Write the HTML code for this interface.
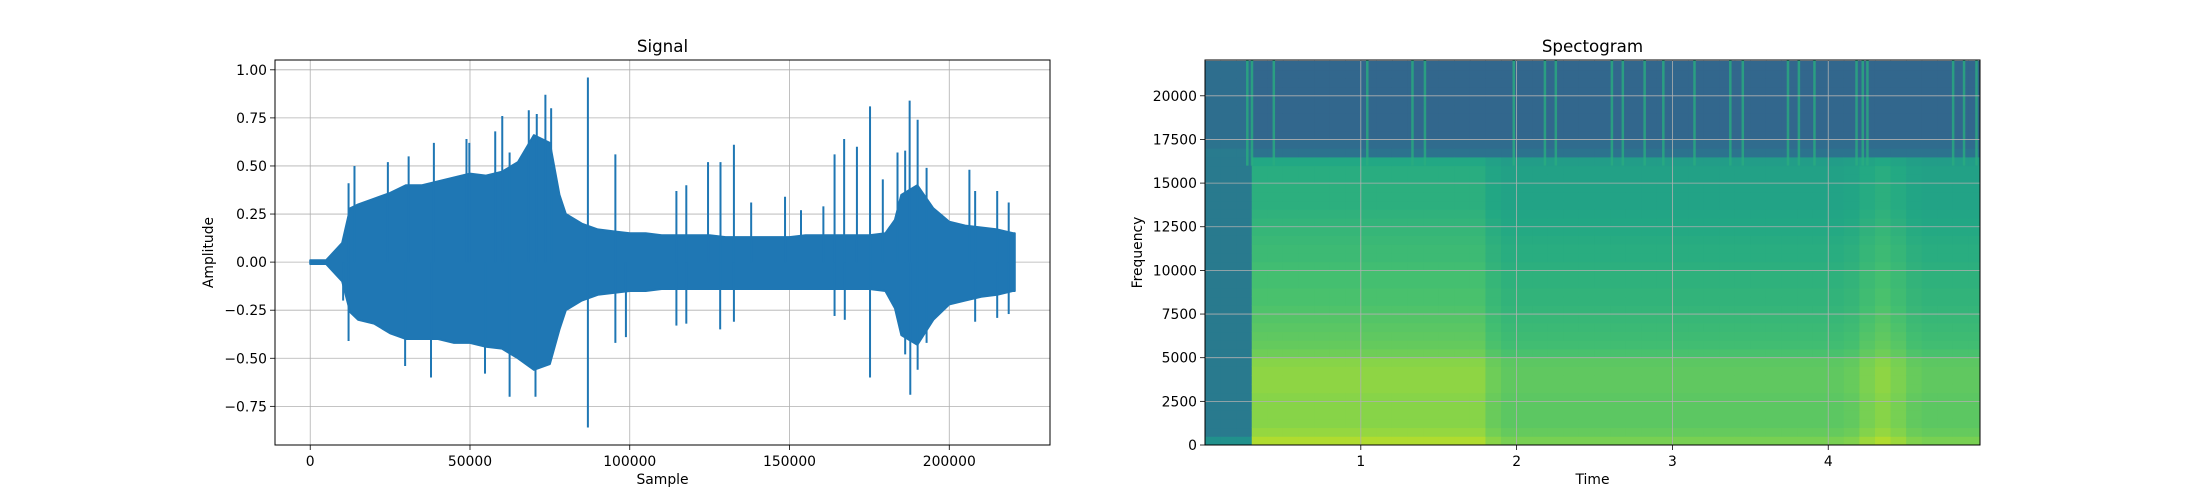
<!DOCTYPE html>
<html><head><meta charset="utf-8"><style>
html,body{margin:0;padding:0;background:#fff;}
svg{display:block;font-family:"DejaVu Sans","Liberation Sans",sans-serif;}
</style></head><body>
<svg id="fig" width="2200" height="500" viewBox="0 0 2200 500" xmlns="http://www.w3.org/2000/svg">
<rect width="2200" height="500" fill="#fff"/>
<g id="sig"></g>
<g id="spec"></g>
</svg>
<script>
// ---- Signal data ----
const envSamples = [0,5000,10000,12500,15000,20000,25000,30000,35000,40000,45000,50000,55000,60000,65000,70000,75000,78000,80000,85000,90000,95000,100000,105000,110000,115000,120000,125000,130000,135000,140000,145000,150000,155000,160000,165000,170000,175000,180000,183000,185000,190000,195000,200000,205000,210000,215000,220000];
const envUpper = [0.01,0.01,0.10,0.28,0.30,0.33,0.36,0.40,0.40,0.42,0.44,0.46,0.45,0.47,0.52,0.66,0.62,0.35,0.25,0.20,0.17,0.16,0.15,0.15,0.14,0.14,0.14,0.14,0.13,0.13,0.13,0.13,0.13,0.14,0.14,0.14,0.14,0.14,0.15,0.22,0.35,0.40,0.28,0.21,0.19,0.18,0.17,0.15];
const envLower = [-0.01,-0.01,-0.10,-0.26,-0.30,-0.32,-0.37,-0.40,-0.40,-0.40,-0.42,-0.42,-0.44,-0.45,-0.50,-0.56,-0.53,-0.35,-0.25,-0.20,-0.17,-0.16,-0.15,-0.15,-0.14,-0.14,-0.14,-0.14,-0.14,-0.14,-0.14,-0.14,-0.14,-0.14,-0.14,-0.14,-0.14,-0.14,-0.15,-0.24,-0.38,-0.43,-0.30,-0.22,-0.20,-0.18,-0.17,-0.15];
const upSpikeSamples = [12000,13850,24300,30800,38700,48900,49800,57900,60100,62400,68400,70900,73600,75400,86900,95500,114600,117700,124500,128400,132600,138000,148600,153600,160600,164100,167100,171100,175200,179200,183800,186200,187600,190100,192900,206300,208100,215000,218600];
const upSpikeValues = [0.41,0.50,0.52,0.55,0.62,0.64,0.62,0.68,0.76,0.57,0.79,0.77,0.87,0.80,0.96,0.56,0.37,0.40,0.52,0.52,0.61,0.31,0.34,0.27,0.29,0.56,0.64,0.60,0.81,0.43,0.57,0.58,0.84,0.74,0.49,0.48,0.37,0.37,0.31];
const downSpikeSamples = [10300,12000,29700,37800,54700,62400,70500,86900,95500,98800,114600,117700,128300,132600,164100,167300,175200,186200,187800,190100,192900,208100,215000,218600];
const downSpikeValues = [-0.20,-0.41,-0.54,-0.60,-0.58,-0.70,-0.70,-0.86,-0.42,-0.39,-0.33,-0.32,-0.35,-0.31,-0.28,-0.30,-0.60,-0.48,-0.69,-0.56,-0.42,-0.31,-0.29,-0.27];
const sigXTicks = [0,50000,100000,150000,200000];
const sigXTickLabels = ["0","50000","100000","150000","200000"];
const sigYTicks = [-0.75,-0.5,-0.25,0,0.25,0.5,0.75,1.0];
const sigYTickLabels = ["−0.75","−0.50","−0.25","0.00","0.25","0.50","0.75","1.00"];

// ---- Spectrogram data ----
const specTimeStart = [0,0.1,0.2,0.3,0.4,0.5,0.6,0.7,0.8,0.9,1.0,1.1,1.2,1.3,1.4,1.5,1.6,1.7,1.8,1.9,2.0,2.1,2.2,2.3,2.4,2.5,2.6,2.7,2.8,2.9,3.0,3.1,3.2,3.3,3.4,3.5,3.6,3.7,3.8,3.9,4.0,4.1,4.2,4.3,4.4,4.5,4.6,4.7,4.8,4.9];
const specColActive = [0,0,0.2,1,1,1,1,1,1,1,1,1,1,1,1,1,1,1,0.96,0.94,0.94,0.94,0.94,0.94,0.94,0.94,0.94,0.94,0.94,0.94,0.94,0.94,0.94,0.94,0.94,0.94,0.94,0.94,0.94,0.94,0.94,0.95,0.98,1,0.98,0.95,0.94,0.94,0.94,0.94];
const specFreqStart = [0,500,1000,1500,2000,2500,3000,3500,4000,4500,5000,5500,6000,6500,7000,7500,8000,8500,9000,9500,10000,10500,11000,11500,12000,12500,13000,13500,14000,14500,15000,15500,16000,16500,17000,17500,18000,18500,19000,19500,20000,20500,21000,21500];
const specFreqLevel = [0.88,0.84,0.82,0.82,0.82,0.82,0.83,0.83,0.83,0.82,0.78,0.76,0.75,0.74,0.73,0.72,0.71,0.71,0.70,0.70,0.69,0.68,0.68,0.67,0.66,0.65,0.64,0.63,0.63,0.63,0.62,0.62,0.60,0.38,0.35,0.33,0.33,0.33,0.33,0.33,0.33,0.33,0.33,0.33];
const specIdleLevel = 0.41;
const transientTimes = [0.27,0.30,0.44,1.04,1.33,1.41,1.98,2.18,2.25,2.61,2.68,2.82,2.94,3.14,3.37,3.45,3.74,3.81,3.91,4.18,4.22,4.25,4.80,4.87,4.95];
const specXTicks = [1,2,3,4];
const specYTicks = [0,2500,5000,7500,10000,12500,15000,17500,20000];

const NS='http://www.w3.org/2000/svg';
function mk(parent, tag, attrs){const e=document.createElementNS(NS,tag);for(const k in attrs)e.setAttribute(k,attrs[k]);parent.appendChild(e);return e;}
const VIR=[[68,1,84],[72,36,117],[65,68,135],[53,95,141],[42,120,142],[33,145,140],[34,168,132],[68,191,112],[122,209,81],[189,223,38],[253,231,37]];
function viridis(v){v=Math.max(0,Math.min(1,v));const p=v*10,i=Math.min(9,Math.floor(p)),f=p-i;const a=VIR[i],b=VIR[i+1];return 'rgb('+a.map((c,j)=>Math.round(c+(b[j]-c)*f)).join(',')+')';}

// ---- Signal axes ----
const L1=275,R1=1050,T=60,B=445;
const sx=s=>L1+(s+11025)/(242550)*(R1-L1);
const sy=v=>T+(1.051-v)/(1.051+0.951)*(B-T);
const sig=document.getElementById('sig');
let t=mk(sig,'text',{x:(L1+R1)/2,y:52,'text-anchor':'middle','font-size':16.7});t.textContent='Signal';

const gridS=mk(sig,'g',{});

sigXTicks.forEach((v,i)=>{const x=sx(v);
 mk(gridS,'line',{x1:x,x2:x,y1:T,y2:B,stroke:'#b0b0b0','stroke-width':0.8});
 mk(sig,'line',{x1:x,x2:x,y1:B,y2:B+5,stroke:'#000','stroke-width':0.8});
 const tx=mk(sig,'text',{x:x,y:B+21,'text-anchor':'middle','font-size':13.9});tx.textContent=sigXTickLabels[i];
 });
sigYTicks.forEach((v,i)=>{const y=sy(v);
 mk(gridS,'line',{x1:L1,x2:R1,y1:y,y2:y,stroke:'#b0b0b0','stroke-width':0.8});
 mk(sig,'line',{x1:L1-5,x2:L1,y1:y,y2:y,stroke:'#000','stroke-width':0.8});
 const tx=mk(sig,'text',{x:L1-8,y:y+5,'text-anchor':'end','font-size':13.9});tx.textContent=sigYTickLabels[i];
 });
let pts=[];
envSamples.forEach((s,i)=>pts.push(sx(s)+','+sy(envUpper[i])));
pts.push(sx(220500)+','+sy(envUpper[envUpper.length-1]));
pts.push(sx(220500)+','+sy(envLower[envLower.length-1]));
for(let i=envSamples.length-1;i>=0;i--)pts.push(sx(envSamples[i])+','+sy(envLower[i]));
const env=mk(sig,'polygon',{points:pts.join(' '),fill:'#1f77b4',stroke:'#1f77b4','stroke-width':2,'stroke-linejoin':'round'});

upSpikeSamples.forEach((s,i)=>{const l=mk(sig,'line',{x1:sx(s),x2:sx(s),y1:sy(0),y2:sy(upSpikeValues[i]),stroke:'#1f77b4','stroke-width':2});
 });
downSpikeSamples.forEach((s,i)=>{const l=mk(sig,'line',{x1:sx(s),x2:sx(s),y1:sy(0),y2:sy(downSpikeValues[i]),stroke:'#1f77b4','stroke-width':2});
 });
mk(sig,'rect',{x:L1,y:T,width:R1-L1,height:B-T,fill:'none',stroke:'#000','stroke-width':1});
t=mk(sig,'text',{x:(L1+R1)/2,y:484,'text-anchor':'middle','font-size':13.9});t.textContent='Sample';

t=mk(sig,'text',{x:0,y:0,'text-anchor':'middle','font-size':13.9,transform:'translate(213,'+((T+B)/2)+') rotate(-90)'});t.textContent='Amplitude';


// ---- Spectrogram axes ----
const L2=1205,R2=1980;
const tx2=v=>L2+v/4.974*(R2-L2);
const fy=f=>B-f/22050*(B-T);
const spec=document.getElementById('spec');
t=mk(spec,'text',{x:(L2+R2)/2,y:52,'text-anchor':'middle','font-size':16.7});t.textContent='Spectogram';

const cells=mk(spec,'g',{});

specTimeStart.forEach((ts,ci)=>{
 const x0=tx2(ts),x1=Math.min(R2,tx2(ts+0.1));
 specFreqStart.forEach((f,ri)=>{
  const a=specColActive[ci];
  let v;
  if(specFreqLevel[ri]<0.45) v=specFreqLevel[ri]+(a<0.4?0.03:0);
  else v=specIdleLevel+(specFreqLevel[ri]*a-specIdleLevel)*Math.max(0,(a-0.2)/0.8);
  if(a<0.4&&ri===0) v=0.5;
  const y1=fy(f),y0=Math.max(T,fy(f+500));
  mk(cells,'rect',{x:x0,y:y0,width:x1-x0+0.5,height:y1-y0+0.5,fill:viridis(v)});
 });
});
transientTimes.forEach(tt=>{const x=tx2(tt);
 const l=mk(spec,'rect',{x:x-1,y:T,width:2.5,height:fy(16000)-T,fill:viridis(0.62),opacity:0.8});
 });
specXTicks.forEach(v=>{const x=tx2(v);
 mk(spec,'line',{x1:x,x2:x,y1:T,y2:B,stroke:'#b0b0b0','stroke-width':0.8});
 mk(spec,'line',{x1:x,x2:x,y1:B,y2:B+5,stroke:'#000','stroke-width':0.8});
 const tt=mk(spec,'text',{x:x,y:B+21,'text-anchor':'middle','font-size':13.9});tt.textContent=String(v);
 });
specYTicks.forEach(v=>{const y=fy(v);
 mk(spec,'line',{x1:L2,x2:R2,y1:y,y2:y,stroke:'#b0b0b0','stroke-width':0.8});
 mk(spec,'line',{x1:L2-5,x2:L2,y1:y,y2:y,stroke:'#000','stroke-width':0.8});
 const tt=mk(spec,'text',{x:L2-8,y:y+5,'text-anchor':'end','font-size':13.9});tt.textContent=String(v);
 });
mk(spec,'rect',{x:L2,y:T,width:R2-L2,height:B-T,fill:'none',stroke:'#000','stroke-width':1});
t=mk(spec,'text',{x:(L2+R2)/2,y:484,'text-anchor':'middle','font-size':13.9});t.textContent='Time';

t=mk(spec,'text',{x:0,y:0,'text-anchor':'middle','font-size':13.9,transform:'translate(1142,'+((T+B)/2)+') rotate(-90)'});t.textContent='Frequency';

</script>
</body></html>
